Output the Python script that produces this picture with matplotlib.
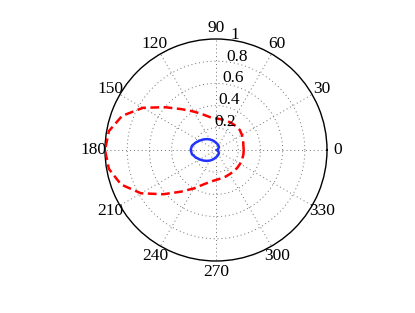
import numpy as np
import matplotlib
matplotlib.use("Agg")
import matplotlib.pyplot as plt
from matplotlib import transforms

# ---- data ----
angles_deg = [0, 10, 20, 30, 40, 50, 60, 70, 80, 90, 100, 110, 120, 130, 140, 150, 160, 170,
              180, 190, 200, 210, 220, 230, 240, 250, 260, 270, 280, 290, 300, 310, 320, 330, 340, 350]
red_r = [0.25, 0.25, 0.26, 0.27, 0.28, 0.28, 0.28, 0.28, 0.28, 0.285, 0.30, 0.34, 0.40, 0.48, 0.60, 0.76, 0.90, 0.98,
         1.00, 0.98, 0.91, 0.78, 0.62, 0.49, 0.40, 0.33, 0.29, 0.27, 0.26, 0.255, 0.25, 0.25, 0.25, 0.25, 0.25, 0.25]
blue_r = [0.015, 0.015, 0.02, 0.025, 0.03, 0.04, 0.045, 0.05, 0.058, 0.065, 0.078, 0.093, 0.11, 0.128, 0.148, 0.17, 0.195, 0.22,
          0.228, 0.22, 0.195, 0.17, 0.148, 0.128, 0.11, 0.093, 0.078, 0.065, 0.058, 0.05, 0.045, 0.04, 0.03, 0.025, 0.02, 0.015]
spoke_angles = [0, 30, 60, 90, 120, 150, 180, 210, 240, 270, 300, 330]
angle_labels = ["0", "30", "60", "90", "120", "150", "180", "210", "240", "270", "300", "330"]
ring_values = [0.2, 0.4, 0.6, 0.8, 1.0]
ring_labels = ["0.2", "0.4", "0.6", "0.8", "1"]

FONT = "Liberation Serif"
FS = 12.5

fig = plt.figure(figsize=(4.15, 3.13), dpi=100)
W, H = 415, 313
cx, cy, R = 216, 150, 111
ax = fig.add_axes([(cx - R) / W, (H - cy - R) / H, 2 * R / W, 2 * R / H], projection="polar")
ax.set_ylim(0, 1)
ax.set_xticks([])
ax.set_yticks([])
ax.grid(False)
ax.set_facecolor("white")
ax.spines["polar"].set_color("black")
ax.spines["polar"].set_linewidth(1.0)

grid_kw = dict(color="#707070", lw=0.7, linestyle=(0, (1, 3)), zorder=1)
tt = np.linspace(0, 2 * np.pi, 400)
for rv in ring_values[:-1]:
    ax.plot(tt, np.full_like(tt, rv), **grid_kw)
for a in spoke_angles:
    ax.plot([np.deg2rad(a), np.deg2rad(a)], [0, 1], **grid_kw)

th = np.deg2rad(angles_deg + [angles_deg[0]])
ax.plot(th, red_r + [red_r[0]], color="#ff0000", lw=1.8, linestyle=(0, (3.5, 1.8)), zorder=3)
ax.plot(th, blue_r + [blue_r[0]], color="#2233ff", lw=1.8, zorder=3)

for a, lab in zip(spoke_angles, angle_labels):
    ax.text(np.deg2rad(a), 1.1, lab, ha="center", va="center", fontsize=FS,
            family=FONT, clip_on=False)

off = transforms.offset_copy(ax.transData, fig=fig, x=-5, y=2, units="dots")
for rv, lab in zip(ring_values, ring_labels):
    ax.text(np.deg2rad(80), rv, lab, ha="left", va="baseline", fontsize=FS,
            family=FONT, transform=off, clip_on=False)

fig.savefig("out.png", dpi=100)
